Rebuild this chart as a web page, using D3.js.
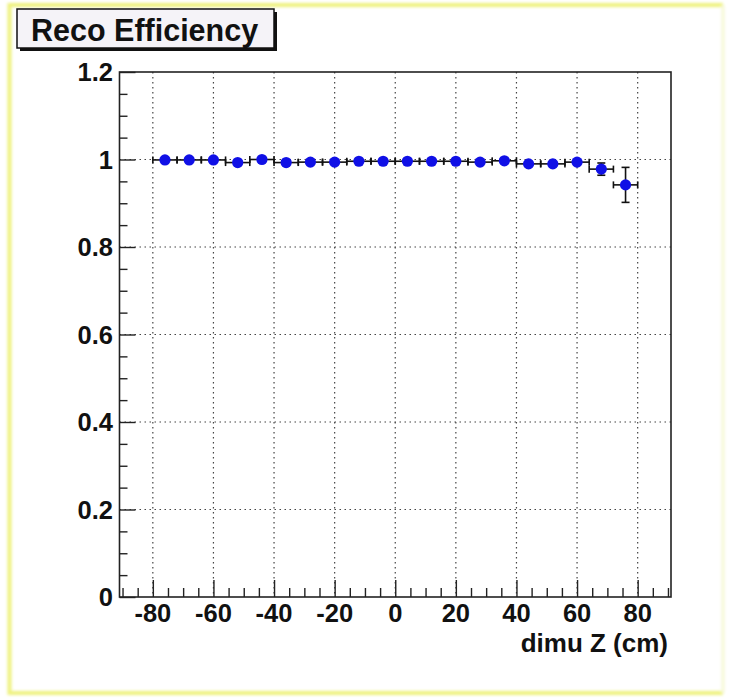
<!DOCTYPE html>
<html>
<head>
<meta charset="utf-8">
<script src="https://cdn.jsdelivr.net/npm/d3@7"></script>
<style>
  html, body { margin: 0; padding: 0; background: #ffffff; }
  svg { display: block; }
  text { font-family: "Liberation Sans", Arial, Helvetica, sans-serif; font-weight: bold; fill: #111; }
</style>
</head>
<body>
<svg id="chart" width="733" height="698"></svg>
<script>
// Bin centres of dimuon vertex Z (cm), 8 cm bins
const zCenters = [-76, -68, -60, -52, -44, -36, -28, -20, -12, -4, 4, 12, 20, 28, 36, 44, 52, 60, 68, 76];
// Half bin widths (x errors)
const zHalfWidth = [4, 4, 4, 4, 4, 4, 4, 4, 4, 4, 4, 4, 4, 4, 4, 4, 4, 4, 4, 4];
// Reconstruction efficiency per bin
const efficiency = [0.999, 0.999, 0.999, 0.993, 1.000, 0.993, 0.994, 0.994, 0.996, 0.996,
                    0.996, 0.996, 0.996, 0.994, 0.997, 0.990, 0.990, 0.994, 0.978, 0.942];
// Statistical errors on the efficiency
const effError = [0.002, 0.002, 0.002, 0.003, 0.001, 0.003, 0.003, 0.003, 0.002, 0.002,
                  0.002, 0.002, 0.002, 0.003, 0.002, 0.004, 0.004, 0.004, 0.014, 0.040];

const xTicks = [-80, -60, -40, -20, 0, 20, 40, 60, 80];
const xMinorTicks = [-90, -85, -75, -70, -65, -55, -50, -45, -35, -30, -25, -15, -10, -5,
                     5, 10, 15, 25, 30, 35, 45, 50, 55, 65, 70, 75, 85, 90];
const yTicks = [0, 0.2, 0.4, 0.6, 0.8, 1, 1.2];
const yTickLabels = ["0", "0.2", "0.4", "0.6", "0.8", "1", "1.2"];
const yMinorTicks = [0.05, 0.1, 0.15, 0.25, 0.3, 0.35, 0.45, 0.5, 0.55, 0.65, 0.7, 0.75,
                     0.85, 0.9, 0.95, 1.05, 1.1, 1.15];

const titleText = "Reco Efficiency";
const xAxisTitle = "dimu Z (cm)";

const svg = d3.select("#chart");

// Canvas edge glow: strong on top, left and bottom, faint on the right
const defs = svg.append("defs");
defs.append("filter").attr("id", "soft")
  .append("feGaussianBlur").attr("stdDeviation", 1.4);
const edge = svg.append("g").attr("filter", "url(#soft)").attr("fill", "none");
edge.append("path")
  .attr("d", "M723,5 L9.5,5 L9.5,693 L723,693")
  .attr("stroke", "#eef27c").attr("stroke-width", 4);
edge.append("path")
  .attr("d", "M723,5 L723,693")
  .attr("stroke", "#f6f8d4").attr("stroke-width", 3);

// Plot frame
const frame = { left: 119.5, right: 671, top: 72, bottom: 597 };

const x = d3.scaleLinear().domain([-91, 91]).range([frame.left, frame.right]);
const y = d3.scaleLinear().domain([0, 1.2]).range([frame.bottom, frame.top]);

const g = svg.append("g");

// Dotted grid at major ticks
g.append("g").selectAll("line").data(xTicks).join("line")
  .attr("x1", d => x(d)).attr("x2", d => x(d))
  .attr("y1", frame.top).attr("y2", frame.bottom)
  .attr("stroke", "#444").attr("stroke-width", 1.2).attr("stroke-dasharray", "1.5,3.5");
g.append("g").selectAll("line").data(yTicks.filter(d => d > 0 && d < 1.2)).join("line")
  .attr("x1", frame.left).attr("x2", frame.right)
  .attr("y1", d => y(d)).attr("y2", d => y(d))
  .attr("stroke", "#444").attr("stroke-width", 1.2).attr("stroke-dasharray", "1.5,3.5");

// Frame box
g.append("rect")
  .attr("x", frame.left).attr("y", frame.top)
  .attr("width", frame.right - frame.left).attr("height", frame.bottom - frame.top)
  .attr("fill", "none").attr("stroke", "#222").attr("stroke-width", 1.6);

// X axis: ticks point up into the frame
const xAxis = d3.axisTop(x).tickValues(xTicks).tickSize(17).tickFormat("");
const xAxisMinor = d3.axisTop(x).tickValues(xMinorTicks).tickSize(9).tickFormat("");
[xAxis, xAxisMinor].forEach(ax => {
  const a = g.append("g").attr("transform", `translate(0,${frame.bottom})`).call(ax);
  a.select(".domain").remove();
  a.selectAll("line").attr("stroke", "#222").attr("stroke-width", 1.4);
});
g.append("g").selectAll("text").data(xTicks).join("text")
  .attr("x", d => x(d)).attr("y", 622)
  .attr("text-anchor", "middle").attr("font-size", 25.5)
  .text(d => d3.format("d")(d).replace("−", "-"));

// Y axis: ticks point right into the frame
const yAxis = d3.axisRight(y).tickValues(yTicks).tickSize(16).tickFormat("");
const yAxisMinor = d3.axisRight(y).tickValues(yMinorTicks).tickSize(8).tickFormat("");
[yAxis, yAxisMinor].forEach(ax => {
  const a = g.append("g").attr("transform", `translate(${frame.left},0)`).call(ax);
  a.select(".domain").remove();
  a.selectAll("line").attr("stroke", "#222").attr("stroke-width", 1.4);
});
g.append("g").selectAll("text").data(yTicks).join("text")
  .attr("x", 113).attr("y", d => y(d) + 9)
  .attr("text-anchor", "end").attr("font-size", 25.5)
  .text((d, i) => yTickLabels[i]);

// X axis title
g.append("text").attr("x", 668).attr("y", 652)
  .attr("text-anchor", "end").attr("font-size", 26)
  .text(xAxisTitle);

// Data points with error bars
const pts = zCenters.map((z, i) => ({ z, hw: zHalfWidth[i], v: efficiency[i], e: effError[i] }));
const cap = 3.5;
const eg = g.append("g").attr("stroke", "#111").attr("stroke-width", 1.6);
pts.forEach(p => {
  const cx = x(p.z), cy = y(p.v);
  const xl = x(p.z - p.hw), xr = x(p.z + p.hw);
  const yt = y(p.v + p.e), yb = y(p.v - p.e);
  eg.append("line").attr("x1", xl).attr("x2", xr).attr("y1", cy).attr("y2", cy);
  eg.append("line").attr("x1", xl).attr("x2", xl).attr("y1", cy - cap).attr("y2", cy + cap);
  eg.append("line").attr("x1", xr).attr("x2", xr).attr("y1", cy - cap).attr("y2", cy + cap);
  eg.append("line").attr("x1", cx).attr("x2", cx).attr("y1", yt).attr("y2", yb);
  eg.append("line").attr("x1", cx - 4).attr("x2", cx + 4).attr("y1", yt).attr("y2", yt);
  eg.append("line").attr("x1", cx - 4).attr("x2", cx + 4).attr("y1", yb).attr("y2", yb);
});
g.append("g").selectAll("circle").data(pts).join("circle")
  .attr("cx", d => x(d.z)).attr("cy", d => y(d.v)).attr("r", 5.6)
  .attr("fill", "#1010e6");

// Title box with drop shadow
const tb = { x: 17, y: 9, w: 257, h: 39 };
svg.append("rect").attr("x", tb.x + 3).attr("y", tb.y + 3).attr("width", tb.w).attr("height", tb.h)
  .attr("fill", "#111");
svg.append("rect").attr("x", tb.x).attr("y", tb.y).attr("width", tb.w).attr("height", tb.h)
  .attr("fill", "#f5f3f8").attr("stroke", "#111").attr("stroke-width", 1.5);
svg.append("text").attr("x", 31).attr("y", 41).attr("font-size", 30.5)
  .text(titleText);
</script>
</body>
</html>
